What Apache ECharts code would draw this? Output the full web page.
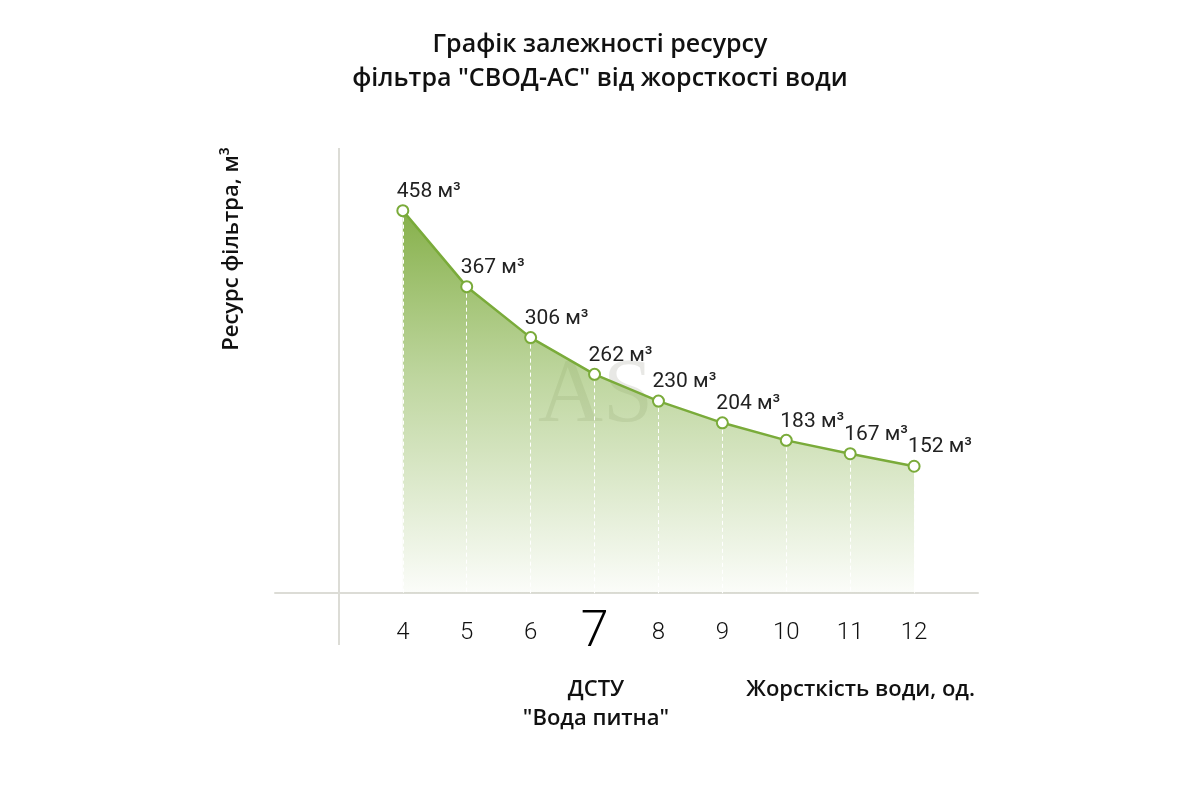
<!DOCTYPE html>
<html>
<head>
<meta charset="utf-8">
<script src="https://cdn.jsdelivr.net/npm/echarts@6/dist/echarts.min.js"></script>
<style>
  html, body { margin: 0; padding: 0; background: #fff; }
  #chart { width: 1200px; height: 800px; }
</style>
</head>
<body>
<div id="chart"></div>
<script>
// water hardness (units) and filter resource (m3)
const hardness = [4, 5, 6, 7, 8, 9, 10, 11, 12];
const resource = [458, 367, 306, 262, 230, 204, 183, 167, 152];
const standardHardness = 7; // DSTU "drinking water"
const titleLines = ["Графік залежності ресурсу", "фільтра \"СВОД-АС\" від жорсткості води"];
const yName = "Ресурс фільтра, м³";
const xName = "Жорсткість води, од.";
const standardName = ["ДСТУ", "\"Вода питна\""];

const green = "#7aab3a";
const axisGrey = "#dcdcd6";

const chart = echarts.init(document.getElementById("chart"));

const points = hardness.map((h, i) => [h, resource[i]]);

// white dashed drop lines from each point to the x axis
const dropLines = points.map((p) => [
  { coord: [p[0], p[1]], lineStyle: { color: "#fff", type: [4, 3], width: 1, opacity: 1 } },
  { coord: [p[0], 0] },
]);

const option = {
  backgroundColor: "#fff",
  title: {
    text: titleLines.join("\n"),
    left: "center",
    top: 23,
    textStyle: {
      fontFamily: "Open Sans",
      fontWeight: 600,
      fontSize: 25,
      lineHeight: 34,
      color: "#111",
    },
  },
  grid: { left: 275, right: 222, top: 148, bottom: 155 },
  xAxis: {
    type: "value",
    min: 2,
    max: 13,
    interval: 1,
    axisLine: { onZero: true, lineStyle: { color: axisGrey, width: 2 } },
    axisTick: { show: false },
    splitLine: { show: false },
    axisLabel: {
      margin: -12,
      verticalAlign: "middle",
      fontFamily: "Roboto",
      fontWeight: 300,
      fontSize: 24,
      color: "#111",
      formatter: (v) => {
        if (hardness.indexOf(v) < 0) return "";
        return v === standardHardness ? "{big|" + v + "}" : String(v);
      },
      rich: {
        big: { fontFamily: "Roboto", fontWeight: 300, fontSize: 50, color: "#000" },
      },
    },
  },
  yAxis: {
    type: "value",
    min: -62,
    max: 533,
    axisLine: { show: false },
    axisTick: { show: false },
    axisLabel: { show: false },
    splitLine: { show: false },
  },
  series: [
    {
      type: "line",
      data: points,
      symbol: "emptyCircle",
      symbolSize: 11,
      lineStyle: { color: green, width: 2.5 },
      itemStyle: { color: green, borderWidth: 2.5 },
      areaStyle: {
        opacity: 1,
        color: new echarts.graphic.LinearGradient(0, 0, 0, 1, [
          { offset: 0, color: "rgba(134,176,74,1)" },
          { offset: 0.45, color: "rgba(140,182,84,0.55)" },
          { offset: 1, color: "rgba(140,182,84,0.03)" },
        ]),
      },
      label: {
        show: true,
        position: "top",
        align: "left",
        offset: [-6, 0],
        distance: 2,
        fontFamily: "Roboto",
        fontSize: 21,
        color: "#222",
        formatter: (p) => p.value[1] + " м³",
      },
      markLine: {
        silent: true,
        symbol: "none",
        label: { show: false },
        animation: false,
        data: [
          { xAxis: 3, lineStyle: { color: axisGrey, type: "solid", width: 2 } },
          ...dropLines,
        ],
      },
    },
  ],
  graphic: [
    {
      type: "text",
      left: 538,
      top: 352,
      z: 0,
      style: {
        text: "AS",
        fontFamily: "Liberation Serif",
        fontSize: 90,
        fill: "rgba(190,190,180,0.35)",
      },
    },
    {
      type: "text",
      x: 232,
      y: 249,
      rotation: Math.PI / 2,
      style: {
        text: yName,
        fontFamily: "Open Sans",
        fontWeight: 600,
        fontSize: 22,
        fill: "#111",
        align: "center",
        verticalAlign: "middle",
      },
    },
    {
      type: "text",
      x: 596,
      y: 704,
      style: {
        text: standardName.join("\n"),
        fontFamily: "Open Sans",
        fontWeight: 600,
        fontSize: 22,
        lineHeight: 29,
        fill: "#111",
        align: "center",
        verticalAlign: "middle",
      },
    },
    {
      type: "text",
      x: 975,
      y: 690,
      style: {
        text: xName,
        fontFamily: "Open Sans",
        fontWeight: 600,
        fontSize: 22,
        fill: "#111",
        align: "right",
        verticalAlign: "middle",
      },
    },
  ],
};

chart.setOption(option);
</script>
</body>
</html>
